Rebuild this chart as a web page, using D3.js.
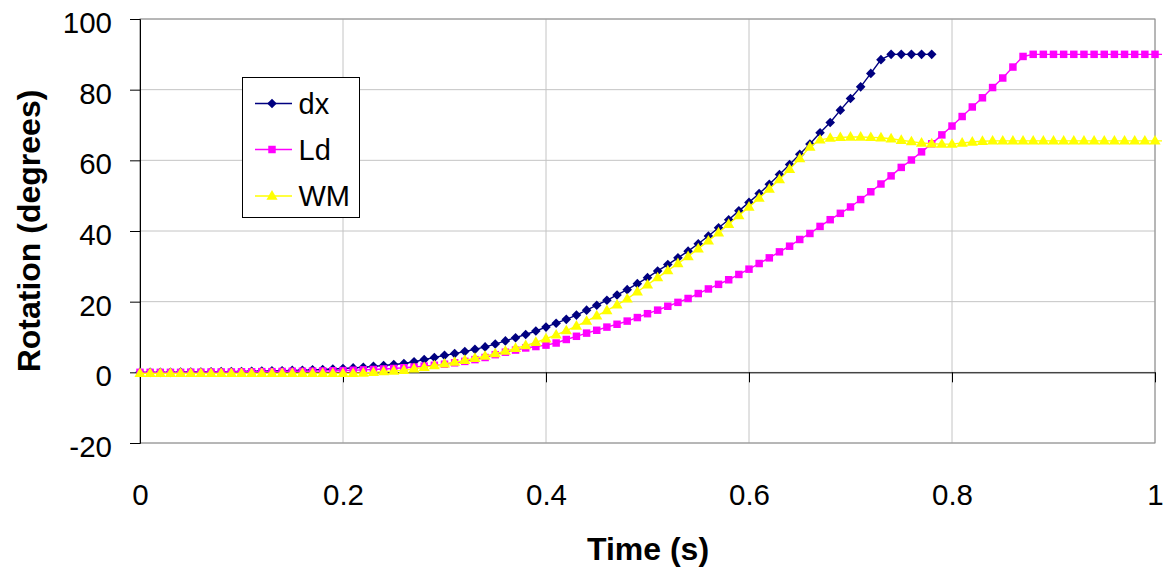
<!DOCTYPE html>
<html>
<head>
<meta charset="utf-8">
<script src="https://cdn.jsdelivr.net/npm/d3@7/dist/d3.min.js"></script>
<style>
  html, body { margin: 0; padding: 0; background: #fff; }
  svg text { font-family: "Liberation Sans", Arial, sans-serif; fill: #000; }
</style>
</head>
<body>
<div id="chart"></div>
<script>
// sample times (s)
const times = [
  0.00, 0.01, 0.02, 0.03, 0.04, 0.05, 0.06, 0.07, 0.08, 0.09,
  0.10, 0.11, 0.12, 0.13, 0.14, 0.15, 0.16, 0.17, 0.18, 0.19,
  0.20, 0.21, 0.22, 0.23, 0.24, 0.25, 0.26, 0.27, 0.28, 0.29,
  0.30, 0.31, 0.32, 0.33, 0.34, 0.35, 0.36, 0.37, 0.38, 0.39,
  0.40, 0.41, 0.42, 0.43, 0.44, 0.45, 0.46, 0.47, 0.48, 0.49,
  0.50, 0.51, 0.52, 0.53, 0.54, 0.55, 0.56, 0.57, 0.58, 0.59,
  0.60, 0.61, 0.62, 0.63, 0.64, 0.65, 0.66, 0.67, 0.68, 0.69,
  0.70, 0.71, 0.72, 0.73, 0.74, 0.75, 0.76, 0.77, 0.78, 0.79,
  0.80, 0.81, 0.82, 0.83, 0.84, 0.85, 0.86, 0.87, 0.88, 0.89,
  0.90, 0.91, 0.92, 0.93, 0.94, 0.95, 0.96, 0.97, 0.98, 0.99,
  1.00, 1.01
];

// rotation (degrees), one value per sample time
const dxValues = [
  0, 0, 0, 0, 0.05, 0.1, 0.1, 0.15, 0.2, 0.2,
  0.25, 0.3, 0.35, 0.4, 0.45, 0.55, 0.6, 0.7, 0.8, 0.95,
  1.1, 1.25, 1.45, 1.7, 1.95, 2.2, 2.5, 3.0, 3.6, 4.2,
  4.8, 5.3, 5.9, 6.5, 7.2, 8.0, 8.9, 9.8, 10.7, 11.7,
  12.8, 13.9, 15.0, 16.2, 17.6, 19.0, 20.4, 21.9, 23.4, 25.1,
  26.8, 28.7, 30.5, 32.4, 34.3, 36.4, 38.6, 40.9, 43.2, 45.7,
  48.1, 50.6, 53.2, 56.0, 58.8, 61.7, 64.6, 67.8, 70.7, 74.2,
  77.5, 80.8, 84.6, 88.5, 90, 90, 90, 90, 90
];

const ldValues = [
  0, 0, 0, 0, 0, 0.05, 0.05, 0.1, 0.1, 0.1,
  0.15, 0.15, 0.2, 0.2, 0.25, 0.3, 0.3, 0.35, 0.4, 0.45,
  0.5, 0.6, 0.7, 0.8, 0.95, 1.1, 1.3, 1.5, 1.75, 2.0,
  2.3, 2.7, 3.1, 3.6, 4.2, 5.0, 5.7, 6.3, 6.9, 7.3,
  7.7, 8.3, 9.3, 10.2, 11.1, 11.9, 12.8, 13.6, 14.5, 15.5,
  16.6, 17.6, 18.7, 19.8, 20.9, 22.3, 23.6, 24.9, 26.2, 27.7,
  29.2, 30.8, 32.4, 34.1, 35.7, 37.6, 39.3, 41.3, 43.2, 45.0,
  46.8, 48.9, 51.1, 53.3, 55.6, 58.0, 60.1, 62.4, 64.7, 67.2,
  69.7, 72.4, 75.1, 77.7, 80.6, 83.3, 86.4, 89.4, 90, 90,
  90, 90, 90, 90, 90, 90, 90, 90, 90, 90,
  90, 90
];

const wmValues = [
  -0.3, -0.3, -0.3, -0.3, -0.3, -0.3, -0.3, -0.3, -0.3, -0.3,
  -0.3, -0.3, -0.3, -0.3, -0.3, -0.3, -0.3, -0.3, -0.3, -0.3,
  -0.3, -0.3, -0.2, 0.0, 0.2, 0.4, 0.6, 1.0, 1.4, 1.9,
  2.4, 2.9, 3.4, 4.0, 4.6, 5.3, 6.0, 6.8, 7.6, 8.5,
  9.5, 10.6, 11.8, 13.1, 14.5, 16.0, 17.5, 19.1, 20.8, 22.8,
  24.8, 26.8, 28.8, 30.8, 32.8, 35.0, 37.2, 39.5, 41.9, 44.4,
  46.8, 49.3, 51.9, 54.6, 57.5, 60.5, 63.8, 65.8, 66.3, 66.5,
  66.6, 66.6, 66.5, 66.4, 66.1, 65.7, 65.3, 64.9, 64.7, 64.6,
  64.6, 64.9, 65.2, 65.4, 65.5, 65.5, 65.5, 65.5, 65.5, 65.5,
  65.5, 65.5, 65.5, 65.5, 65.5, 65.5, 65.5, 65.5, 65.5, 65.5,
  65.5, 65.5
];

const seriesNames = ['dx', 'Ld', 'WM'];
const xTicks = [0, 0.2, 0.4, 0.6, 0.8, 1];
const xTickLabels = ['0', '0.2', '0.4', '0.6', '0.8', '1'];
const yTicks = [-20, 0, 20, 40, 60, 80, 100];
const yTickLabels = ['-20', '0', '20', '40', '60', '80', '100'];

function drawChart() {
  const totalWidth = 1166, totalHeight = 570;
  const margin = { top: 19, left: 140, right: 11, bottom: 127 };
  const width = totalWidth - margin.left - margin.right;
  const height = totalHeight - margin.top - margin.bottom;

  const styles = {
    dx: { color: '#000080', symbol: 'diamond' },
    Ld: { color: '#ff00ff', symbol: 'square' },
    WM: { color: '#ffff00', symbol: 'triangle' }
  };
  const valuesByName = { dx: dxValues, Ld: ldValues, WM: wmValues };

  const svg = d3.select('#chart').append('svg')
      .attr('width', totalWidth)
      .attr('height', totalHeight);

  const x = d3.scaleLinear().domain([0, 1]).range([0, width]);
  const y = d3.scaleLinear().domain([-20, 100]).range([height, 0]);

  const g = svg.append('g')
      .attr('transform', 'translate(' + [margin.left, margin.top] + ')');

  // gridlines
  g.append('g').selectAll('line').data(yTicks).enter().append('line')
      .attr('x1', 0).attr('x2', width)
      .attr('y1', function(d) { return y(d); })
      .attr('y2', function(d) { return y(d); })
      .attr('stroke', '#c4c4c4').attr('stroke-width', 1);
  g.append('g').selectAll('line').data(xTicks).enter().append('line')
      .attr('y1', 0).attr('y2', height)
      .attr('x1', function(d) { return x(d); })
      .attr('x2', function(d) { return x(d); })
      .attr('stroke', '#c4c4c4').attr('stroke-width', 1);

  // plot area border
  g.append('rect')
      .attr('x', 0).attr('y', 0)
      .attr('width', width).attr('height', height)
      .attr('fill', 'none').attr('stroke', '#8c8c8c').attr('stroke-width', 1);

  // y axis on the left
  const yAxis = d3.axisLeft(y)
      .tickValues(yTicks)
      .tickFormat(function(d, i) { return yTickLabels[i]; })
      .tickSize(10)
      .tickPadding(18);
  const yAxisG = g.append('g').call(yAxis);
  yAxisG.select('.domain').attr('stroke', '#000');
  yAxisG.selectAll('.tick line').attr('stroke', '#000');
  yAxisG.selectAll('.tick text')
      .style('font-size', '29.5px')
      .attr('dy', '0.36em')
      .attr('y', 3);

  // x axis crosses at 0
  const xAxis = d3.axisBottom(x)
      .tickValues(xTicks)
      .tickFormat(function(d, i) { return xTickLabels[i]; })
      .tickSize(10)
      .tickSizeOuter(0);
  const xAxisG = g.append('g')
      .attr('transform', 'translate(0,' + y(0) + ')')
      .call(xAxis);
  xAxisG.select('.domain').attr('stroke', '#000');
  xAxisG.selectAll('.tick line').attr('stroke', '#000');
  xAxisG.selectAll('.tick text')
      .style('font-size', '29.5px')
      .attr('dy', null)
      .attr('y', (height - y(0)) + 62);

  // axis titles
  svg.append('text')
      .attr('x', 648)
      .attr('y', 560)
      .attr('text-anchor', 'middle')
      .style('font-size', '32px')
      .style('font-weight', 'bold')
      .text('Time (s)');
  svg.append('text')
      .attr('transform', 'translate(40,' + 231 + ') rotate(-90)')
      .attr('text-anchor', 'middle')
      .style('font-size', '32px')
      .style('font-weight', 'bold')
      .text('Rotation (degrees)');

  // lines run a few pixels past the right edge, like the original
  svg.append('clipPath').attr('id', 'plotClip')
      .append('rect')
      .attr('x', 0).attr('y', -10)
      .attr('width', width + 7).attr('height', height + 20);

  function symbolPath(kind) {
    if (kind === 'diamond') return d3.symbol().type(d3.symbolSquare).size(46)();
    if (kind === 'square') return d3.symbol().type(d3.symbolSquare).size(56)();
    return d3.symbol().type(d3.symbolTriangle).size(54)();
  }
  function symbolTransform(kind, px, py) {
    var t = 'translate(' + px + ',' + py + ')';
    if (kind === 'diamond') t += ' rotate(45)';
    if (kind === 'triangle') t += ' translate(0,0.5)';
    return t;
  }

  const line = d3.line()
      .x(function(d) { return x(d.t); })
      .y(function(d) { return y(d.v); });

  seriesNames.forEach(function(name) {
    const vals = valuesByName[name];
    const pts = vals.map(function(v, i) { return { t: times[i], v: v }; });
    const st = styles[name];
    const sg = g.append('g').attr('class', 'series-' + name);

    sg.append('path')
        .datum(pts)
        .attr('clip-path', 'url(#plotClip)')
        .attr('d', line)
        .attr('fill', 'none')
        .attr('stroke', st.color)
        .attr('stroke-width', 1.4);

    sg.selectAll('path.marker')
        .data(pts.filter(function(d) { return d.t <= 1; }))
        .enter().append('path')
        .attr('class', 'marker')
        .attr('d', symbolPath(st.symbol))
        .attr('transform', function(d) { return symbolTransform(st.symbol, x(d.t), y(d.v)); })
        .attr('fill', st.color)
        .attr('stroke', 'none');
  });

  // legend
  const legend = svg.append('g').attr('transform', 'translate(242.5,77.5)');
  legend.append('rect')
      .attr('width', 117).attr('height', 140)
      .attr('fill', '#fff')
      .attr('stroke', '#000').attr('stroke-width', 1);
  const legendRows = [26, 72, 118.5];
  seriesNames.forEach(function(name, i) {
    const st = styles[name];
    const ly = legendRows[i];
    legend.append('line')
        .attr('x1', 12.5).attr('x2', 49.5)
        .attr('y1', ly).attr('y2', ly)
        .attr('stroke', st.color).attr('stroke-width', 1.4);
    legend.append('path')
        .attr('d', symbolPath(st.symbol))
        .attr('transform', symbolTransform(st.symbol, 29.5, ly))
        .attr('fill', st.color);
    legend.append('text')
        .attr('x', 56)
        .attr('y', ly)
        .attr('dy', '0.36em')
        .style('font-size', '29px')
        .text(name);
  });
}

drawChart();
</script>
</body>
</html>
